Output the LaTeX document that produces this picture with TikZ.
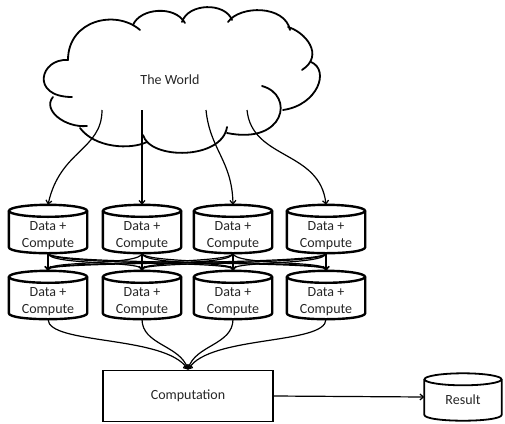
\documentclass[tikz,border=0pt]{standalone}
\usepackage{fontspec}
\setmainfont{Carlito}
\usetikzlibrary{arrows.meta}

% text set a little below the middle, into the body of a cylinder
\newcommand{\bodytext}[2]{\raisebox{-#1}[\height][\depth]{\begin{tabular}{@{}c@{}}#2\end{tabular}}}

\begin{document}
\begin{tikzpicture}[x=1pt,y=-1pt,
  lbl/.style={font=\fontsize{14}{17}\selectfont, text=black!85},
  store/.style={rectangle, minimum width=78pt, minimum height=48pt, inner sep=0pt, lbl},
  cloudline/.style={line width=1.8pt, line cap=round},
  link/.style={line width=1.2pt, -{Straight Barb[length=3.5pt,width=6pt]}},
]
\useasboundingbox (0,0) rectangle (505,423);

% cloud outline, drawn lobe by lobe
\draw[cloudline] (68,60) .. controls (68,20) and (116,9) .. (140,30);
\draw[cloudline] (133,25) .. controls (140,8) and (175,5) .. (185,23);
\draw[cloudline] (182,22) .. controls (188,3) and (225,2) .. (232,20);
\draw[cloudline] (228,22) .. controls (240,5) and (285,5) .. (290,30);
\draw[cloudline] (288,27) .. controls (305,32) and (325,55) .. (302,70);
\draw[cloudline] (311,62) .. controls (330,70) and (318,105) .. (283,110);
\draw[cloudline] (262,86) .. controls (295,95) and (285,145) .. (227,133);
\draw[cloudline] (227,127) .. controls (222,160) and (150,160) .. (143,135);
\draw[cloudline] (147,142) .. controls (130,150) and (95,148) .. (80,128);
\draw[cloudline] (87,126) .. controls (65,128) and (42,110) .. (53,97);
\draw[cloudline] (68,60) .. controls (40,58) and (30,97) .. (72,97);
\node[lbl] (world) at (170,80) {The World};

% sources inside the cloud
\coordinate (w1) at (102,110);
\coordinate (w2) at (142,110);
\coordinate (w3) at (206,110);
\coordinate (w4) at (247,110);

% first row of stores
\node[store] (t1) at (48,229) {\bodytext{7pt}{Data +\\Compute}};
\node[store] (t2) at (142,229) {\bodytext{7pt}{Data +\\Compute}};
\node[store] (t3) at (233,229) {\bodytext{7pt}{Data +\\Compute}};
\node[store] (t4) at (326,229) {\bodytext{7pt}{Data +\\Compute}};

% second row of stores
\node[store] (b1) at (48,295) {\bodytext{7pt}{Data +\\Compute}};
\node[store] (b2) at (142,295) {\bodytext{7pt}{Data +\\Compute}};
\node[store] (b3) at (233,295) {\bodytext{7pt}{Data +\\Compute}};
\node[store] (b4) at (326,295) {\bodytext{7pt}{Data +\\Compute}};

% computation and result
\node[draw, line width=1.8pt, minimum width=170pt, minimum height=51pt, lbl]
  (comp) at (188,396) {Computation};
\node[store, minimum width=77pt, minimum height=47pt]
  (res) at (463,397) {\bodytext{4pt}{Result}};

% cylinder outlines around the store nodes
\foreach \n/\r/\w in {t1/39/2.4,t2/39/2.4,t3/39/2.4,t4/39/2.4,
                      b1/39/2.4,b2/39/2.4,b3/39/2.4,b4/39/2.4,res/38.5/1.8}{
  \draw[line width=\w pt] ([yshift=-6pt]\n.north) ellipse [x radius=\r pt, y radius=6pt];
  \draw[line width=\w pt, line join=round]
    ([yshift=-6pt]\n.north west) -- ([yshift=6pt]\n.south west)
    .. controls ([yshift=-2pt]\n.south west) and ([yshift=-2pt]\n.south east)
    .. ([yshift=6pt]\n.south east) -- ([yshift=-6pt]\n.north east);
}

% from the world into the first row
\draw[link] (w1) .. controls (102,150) and (60,150) .. (t1.north);
\draw[link] (w2) -- (t2.north);
\draw[link] (w3) .. controls (210,150) and (232,160) .. (t3.north);
\draw[link] (w4) .. controls (252,160) and (320,150) .. (t4.north);

% every store of the first row feeds every store of the second
\foreach \i in {1,...,4}{
  \foreach \j in {1,...,4}{
    \draw[link] (t\i.south) .. controls +(0,12) and +(0,-10) .. (b\j.north);
  }
}

% second row into the computation
\draw[link] (b1.south) .. controls (48,345) and (165,335) .. (comp.north);
\draw[link] (b2.south) .. controls (142,345) and (180,345) .. (comp.north);
\draw[link] (b3.south) .. controls (233,345) and (195,345) .. (comp.north);
\draw[link] (b4.south) .. controls (326,345) and (210,335) .. (comp.north);

\draw[link] (comp.east) -- (res.west);
\end{tikzpicture}
\end{document}
